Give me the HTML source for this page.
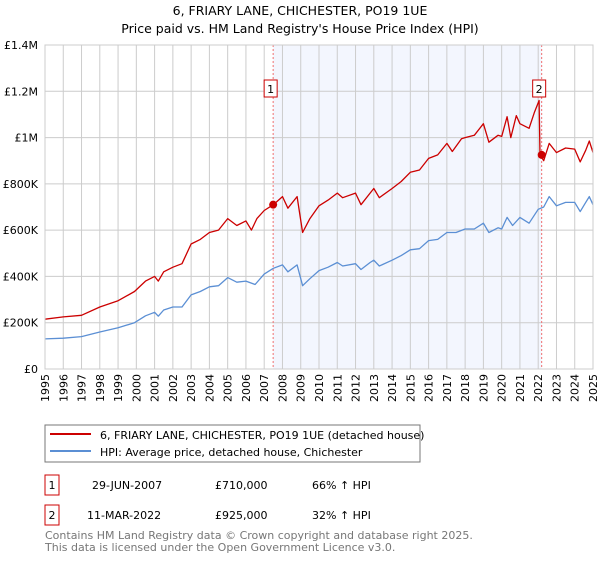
<!DOCTYPE html>
<html><head><meta charset="utf-8"><style>
body{margin:0;background:#fff;font-family:"DejaVu Sans","Liberation Sans",sans-serif;}
svg text{font-family:"DejaVu Sans","Liberation Sans",sans-serif;}
</style></head><body>
<svg id="c" width="600" height="560">
<text x="300" y="15" text-anchor="middle" font-size="12.5">6, FRIARY LANE, CHICHESTER, PO19 1UE</text>
<text x="300" y="33" text-anchor="middle" font-size="12.5">Price paid vs. HM Land Registry's House Price Index (HPI)</text>
<g id="plot"></g>
<rect x="45" y="425" width="375" height="37" fill="#fff" stroke="#777"/>
<line x1="50" y1="434" x2="91" y2="434" stroke="#cc0000" stroke-width="2"/>
<text x="100" y="439" font-size="11">6, FRIARY LANE, CHICHESTER, PO19 1UE (detached house)</text>
<line x1="50" y1="451" x2="91" y2="451" stroke="#5b8fd4" stroke-width="2"/>
<text x="100" y="456" font-size="11">HPI: Average price, detached house, Chichester</text>
<g font-size="11">
<rect x="45" y="475" width="14" height="20" fill="none" stroke="#cc0000"/>
<text x="52" y="489" text-anchor="middle">1</text>
<text x="92" y="489">29-JUN-2007</text>
<text x="215" y="489">£710,000</text>
<text x="312" y="489">66% ↑ HPI</text>
<rect x="45" y="505" width="14" height="20" fill="none" stroke="#cc0000"/>
<text x="52" y="519" text-anchor="middle">2</text>
<text x="87" y="519">11-MAR-2022</text>
<text x="215" y="519">£925,000</text>
<text x="312" y="519">32% ↑ HPI</text>
</g>
<text x="45" y="539" font-size="11" fill="#777">Contains HM Land Registry data © Crown copyright and database right 2025.</text>
<text x="45" y="551" font-size="11" fill="#777">This data is licensed under the Open Government Licence v3.0.</text>
</svg>
<script>
const yTicks=[0,200,400,600,800,1000,1200,1400];
const yTickLabels=["£0","£200K","£400K","£600K","£800K","£1M","£1.2M","£1.4M"];
const hpiYears=[1995,1996,1997,1998,1999,1999.9,2000.5,2001,2001.2,2001.5,2002,2002.5,2003,2003.5,2004,2004.5,2005,2005.5,2006,2006.5,2007,2007.5,2008,2008.3,2008.8,2009.1,2009.5,2010,2010.5,2011,2011.3,2012,2012.3,2012.8,2013,2013.3,2014,2014.5,2015,2015.5,2016,2016.5,2017,2017.5,2018,2018.5,2019,2019.3,2019.8,2020,2020.3,2020.6,2021,2021.5,2022,2022.3,2022.6,2023,2023.5,2024,2024.3,2024.6,2024.8,2025];
const hpiValues=[130,133,140,160,178,200,230,245,228,255,268,268,320,335,355,360,395,375,380,365,410,435,450,420,450,360,390,425,440,460,445,455,430,460,470,445,470,490,515,520,555,560,590,590,605,605,630,590,610,605,655,620,655,630,690,700,745,705,720,720,680,720,745,710];
const propYears=[1995,1996,1997,1998,1999,1999.9,2000.5,2001,2001.2,2001.5,2002,2002.5,2003,2003.5,2004,2004.5,2005,2005.5,2006,2006.3,2006.6,2007,2007.5,2008,2008.3,2008.8,2009.1,2009.5,2010,2010.5,2011,2011.3,2012,2012.3,2012.8,2013,2013.3,2014,2014.5,2015,2015.5,2016,2016.5,2017,2017.3,2017.8,2018,2018.5,2019,2019.3,2019.8,2020,2020.3,2020.5,2020.8,2021,2021.5,2021.8,2022.05,2022.1,2022.3,2022.6,2023,2023.5,2024,2024.3,2024.6,2024.8,2025];
const propValues=[215,225,232,268,295,335,380,400,380,420,440,455,540,560,590,600,650,620,640,600,650,685,710,745,695,745,590,650,705,730,760,740,760,710,760,780,740,780,810,850,860,910,925,975,940,995,1000,1010,1060,980,1010,1005,1090,1000,1095,1060,1040,1110,1160,925,900,975,935,955,950,895,945,985,935];
const saleYears=[2007.49,2022.19];
const saleValues=[710,925];
const saleLabels=["1","2"];
const X0=45,X1=593,Y0=369,Y1=45;
const xs=y=>X0+(y-1995)/30*(X1-X0);
const ys=v=>Y0-v/1400*(Y0-Y1);
const NS="http://www.w3.org/2000/svg";
const g=document.getElementById('plot');
function mk(t,a){const e=document.createElementNS(NS,t);for(const k in a)e.setAttribute(k,a[k]);g.appendChild(e);return e;}
let r=mk('rect',{x:xs(saleYears[0]),y:Y1,width:xs(saleYears[1])-xs(saleYears[0]),height:Y0-Y1,fill:'#f3f6fe'});


for(let yr=1995;yr<=2025;yr++){
 let l=mk('line',{x1:xs(yr),x2:xs(yr),y1:Y1,y2:Y0,stroke:'#ccc','stroke-width':1});
 
 
 let t=mk('text',{x:0,y:0,'font-size':11,'text-anchor':'end',transform:`translate(${xs(yr)+4},${Y0+5}) rotate(-90)`});
 t.textContent=yr;
 
 
}
yTicks.forEach((v,i)=>{
 let l=mk('line',{x1:X0,x2:X1,y1:ys(v),y2:ys(v),stroke:'#ccc','stroke-width':1});
 
 
 let t=mk('text',{x:38,y:ys(v)+4,'font-size':11,'text-anchor':'end'});
 t.textContent=yTickLabels[i];
 
 
});
saleYears.forEach((yr,i)=>{
 let l=mk('line',{x1:xs(yr),x2:xs(yr),y1:Y1,y2:Y0,stroke:'#f07070','stroke-width':1,'stroke-dasharray':'2,2'});
 
 
});
function path(xa,va,col,name){
 let d=xa.map((x,i)=>(i?'L':'M')+xs(x).toFixed(1)+','+ys(va[i]).toFixed(1)).join('');
 let p=mk('path',{d:d,fill:'none',stroke:col,'stroke-width':1.3,'stroke-linejoin':'round'});
 
 
}
path(hpiYears,hpiValues,'#5b8fd4','hpi-line');
path(propYears,propValues,'#cc0000','property-price-line');
saleYears.forEach((yr,i)=>{
 let c=mk('circle',{cx:xs(yr),cy:ys(saleValues[i]),r:4,fill:'#cc0000'});
 
 
 let b=mk('rect',{x:xs(yr)-9,y:80,width:13,height:17,fill:'#fff',stroke:'#cc0000'});
 
 
 let t=mk('text',{x:xs(yr)-2.5,y:93,'font-size':11,'text-anchor':'middle'});
 t.textContent=saleLabels[i];
 
 
});
let f=mk('rect',{x:X0,y:Y1,width:X1-X0,height:Y0-Y1,fill:'none',stroke:'#ccc'});


</script>
</body></html>
